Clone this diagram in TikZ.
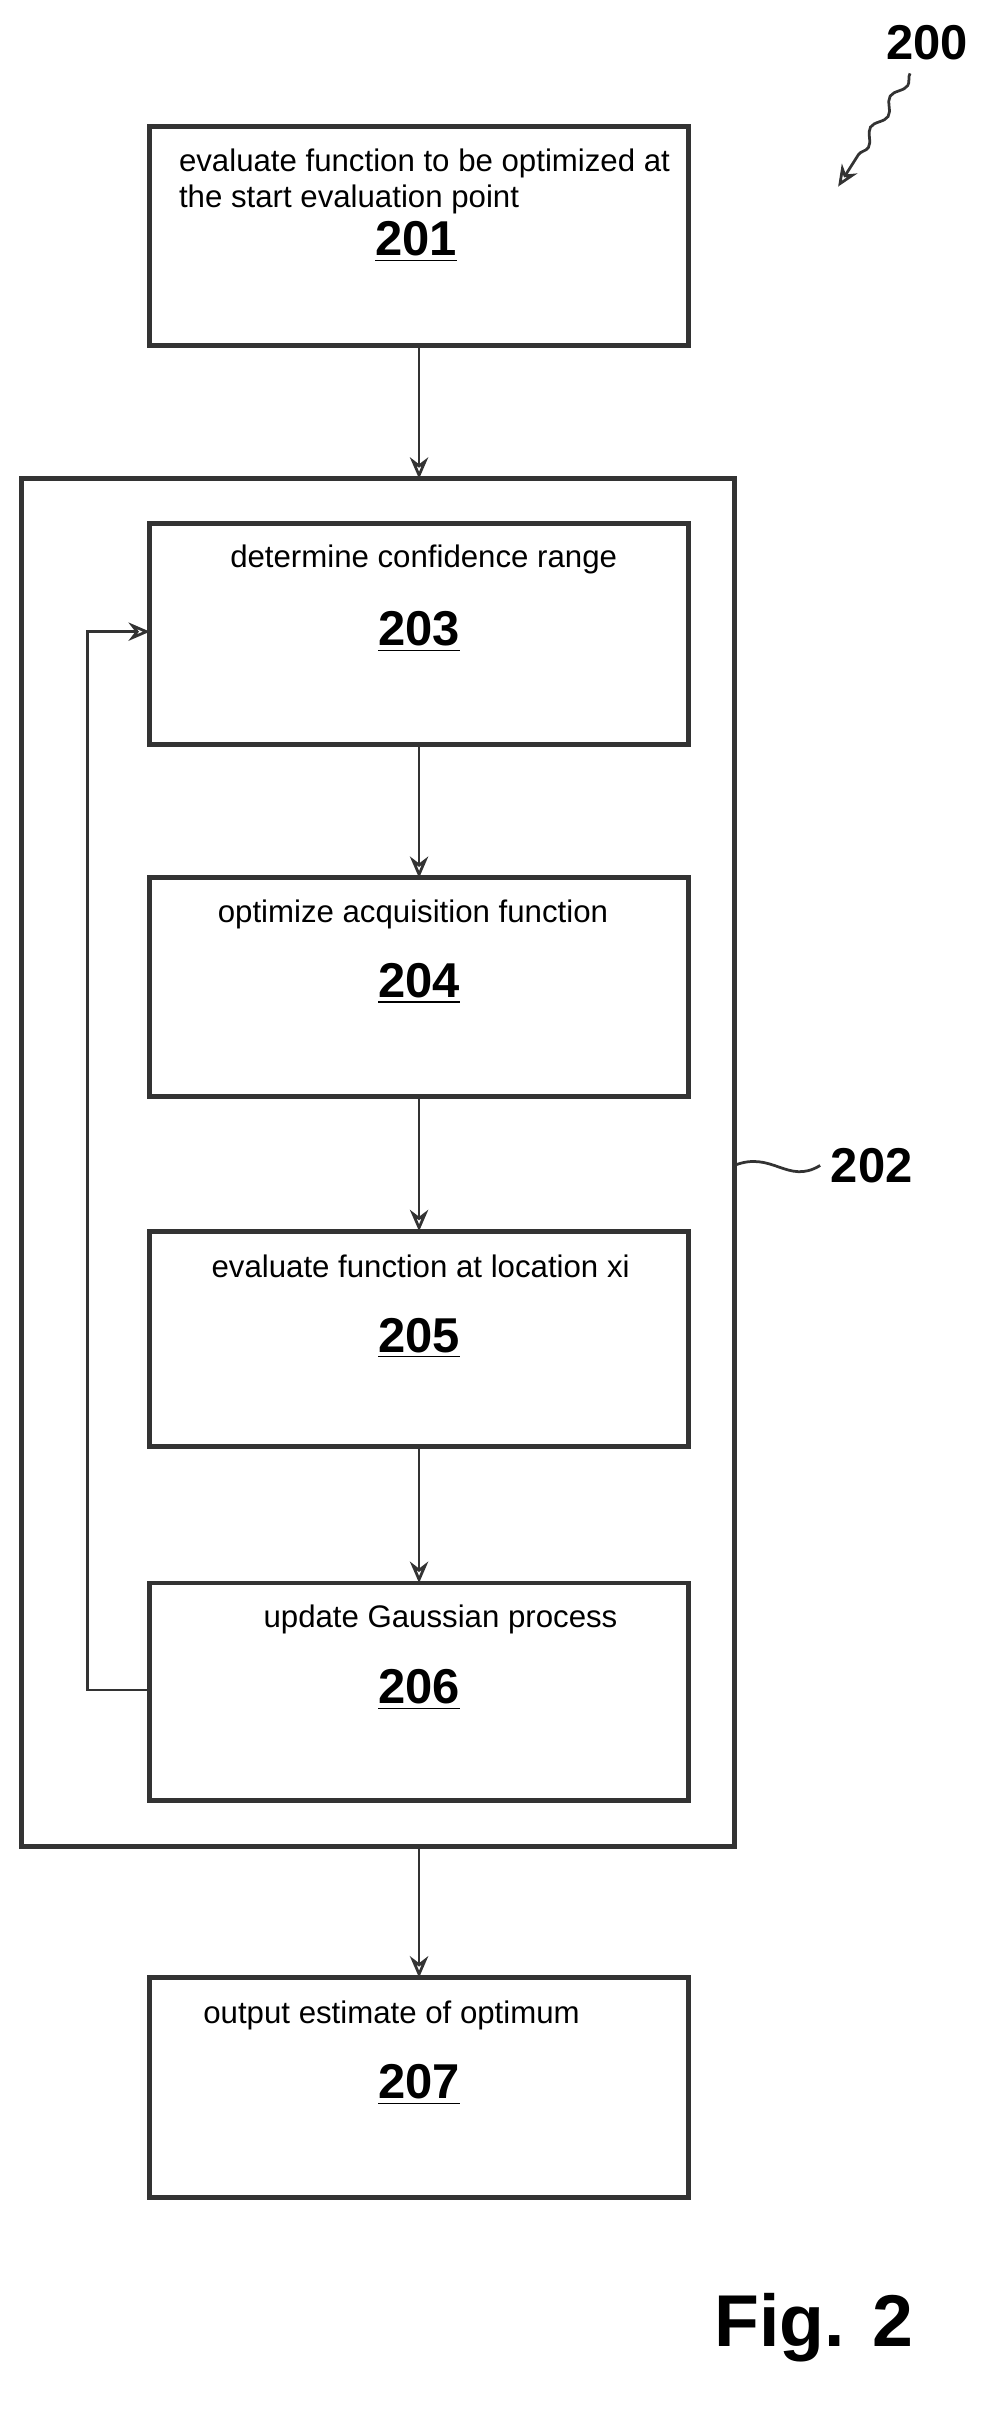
\documentclass[tikz,border=0pt]{standalone}
\usepackage{fontspec}
\setmainfont{Liberation Sans}
\usetikzlibrary{arrows.meta,decorations.pathmorphing}
\begin{document}
\begin{tikzpicture}[x=0.5pt,y=-0.5pt,
  box/.style={draw=black!80,line width=1.6pt},
  arr/.style={draw=black!80,line width=0.9pt,-{Stealth[length=7pt,width=6pt,open]}},
  txt/.style={font=\fontsize{10.2}{12}\selectfont,align=left},
  num/.style={font=\fontsize{16}{18}\selectfont\bfseries}]
\useasboundingbox (0,0) rectangle (650,1579);
\draw[box] (14,313) rectangle (480,1207);
\foreach \n/\t/\b in {201/83/226,203/342/487,204/574/717,205/805/946,206/1035/1177,207/1293/1437}{
  \draw[box] (98,\t) rectangle (450,\b);
  \coordinate (b\n) at (274,\t);
  \coordinate (e\n) at (274,\b);
}
\node[txt,anchor=north west] (t201) at (110,90) {evaluate function to be optimized at\\the start evaluation point};
\node[txt] (t203) at (277,366) {determine confidence range};
\node[txt] (t204) at (270,598) {optimize acquisition function};
\node[txt] (t205) at (275,828) {evaluate function at location xi};
\node[txt] (t206) at (288,1059) {update Gaussian process};
\node[txt] (t207) at (256,1318) {output estimate of optimum};
\node[num] (n201) at (272,158) {\underline{201}};
\node[num] (n203) at (274,413) {\underline{203}};
\node[num] (n204) at (274,643) {\underline{204}};
\node[num] (n205) at (274,875) {\underline{205}};
\node[num] (n206) at (274,1105) {\underline{206}};
\node[num] (n207) at (274,1363) {\underline{207}};
\coordinate (o202) at (274,313);
\coordinate (ob202) at (274,1207);
\draw[arr] (e201) -- (o202);
\draw[arr] (e203) -- (b204);
\draw[arr] (e204) -- (b205);
\draw[arr] (e205) -- (b206);
\draw[arr] (ob202) -- (b207);
\coordinate (f1) at (98,1105);
\coordinate (f2) at (98,413);
\draw[arr] (f1) -- (57,1105) -- (57,413) -- (f2);
\node[font=\fontsize{16}{18}\selectfont\bfseries] (l202) at (570,762) {202};
\coordinate (s202) at (480,762);
\draw[line width=0.9pt,black!80] (s202) .. controls (505,752) and (515,775) .. (l202.west);
\node[font=\fontsize{16}{18}\selectfont\bfseries] (l200) at (606,28) {200};
\coordinate (a200) at (548,122);
\draw[arr,decorate,decoration={snake,amplitude=1.5pt,segment length=12pt,post length=8pt}] (595,48) -- (a200);
\node[font=\fontsize{24}{28}\selectfont\bfseries] (fig) at (532,1522) {Fig. 2};
\end{tikzpicture}
\end{document}
